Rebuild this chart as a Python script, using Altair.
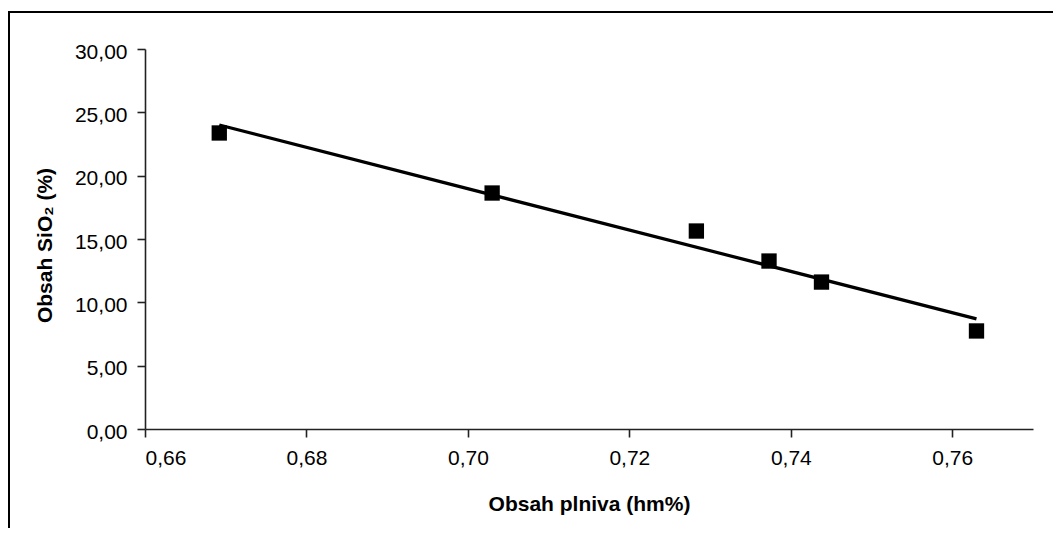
import altair as alt
import pandas as pd

# data
plniva = [0.6692, 0.7030, 0.7283, 0.7373, 0.7438, 0.7630]
sio2 = [23.37, 18.63, 15.63, 13.26, 11.60, 7.74]
x_ticks = [0.66, 0.68, 0.70, 0.72, 0.74, 0.76]
y_ticks = [0, 5, 10, 15, 20, 25, 30]

df = pd.DataFrame({"x": plniva, "y": sio2})

FONT = "Liberation Sans"
W, H = 888, 380

xscale = alt.Scale(domain=[0.66, 0.77], nice=False, zero=False)
yscale = alt.Scale(domain=[0, 30], nice=False)

xaxis = alt.Axis(
    values=x_ticks,
    labelExpr="replace(format(datum.value, '.2f'), '.', ',')",
    title="Obsah plniva (hm%)",
    grid=False, tickSize=8, labelBaseline="alphabetic", labelPadding=27,
    titleBaseline="alphabetic", titleY=81, titleX=W / 2,
)
yaxis = alt.Axis(
    values=y_ticks,
    labelExpr="replace(format(datum.value, '.2f'), '.', ',')",
    title="Obsah SiO₂ (%)",
    grid=False, tickSize=8, labelPadding=10, labelOffset=3,
    titleAngle=270, titleBaseline="alphabetic", titleX=-94, titleY=H / 2 + 6,
)

base = alt.Chart(df)

points = base.mark_square(size=235, color="black", opacity=1).encode(
    x=alt.X("x:Q", scale=xscale, axis=xaxis),
    y=alt.Y("y:Q", scale=yscale, axis=yaxis),
)

trend = base.transform_regression("x", "y").mark_line(
    color="black", strokeWidth=3.2
).encode(
    x=alt.X("x:Q", scale=xscale),
    y=alt.Y("y:Q", scale=yscale),
)

frame = alt.Chart(pd.DataFrame({"a": [0]})).mark_rect(
    fill=None, stroke="black", strokeWidth=2, clip=False
).encode(
    x=alt.value(-136), x2=alt.value(W + 200),
    y=alt.value(-37), y2=alt.value(H + 300),
)

chart = alt.layer(frame, trend, points).properties(
    width=W, height=H,
    background="white",
    autosize=alt.AutoSizeParams(type="none"),
    padding={"left": 137, "top": 41, "right": 20, "bottom": 99},
).configure_view(stroke=None).configure_axis(
    labelFont=FONT, titleFont=FONT, labelFontSize=21, titleFontSize=21,
    labelColor="black", titleColor="black", titleFontWeight="bold",
    domainColor="#222222", tickColor="#222222", domainWidth=1.6, tickWidth=1.6,
)

chart.save("out.html", embed_options={"renderer": "svg", "actions": False})
